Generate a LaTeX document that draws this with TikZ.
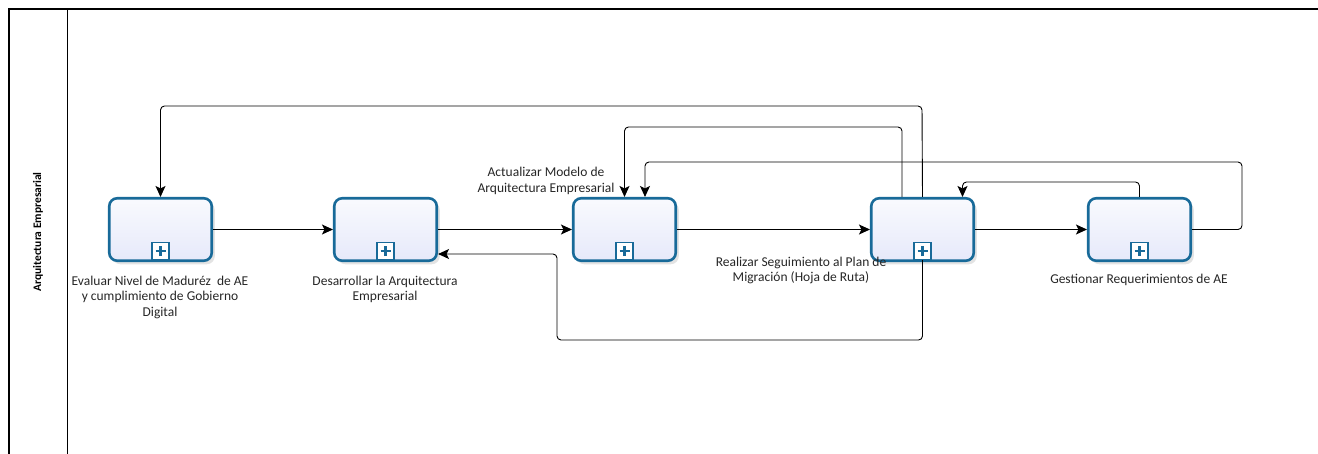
\documentclass[tikz,border=0pt]{standalone}
\usepackage{fontspec}
\setmainfont{Carlito}
\usetikzlibrary{shadows,arrows.meta,calc}
\definecolor{taskblue}{RGB}{24,106,153}
\definecolor{taskfill}{RGB}{240,242,252}
\definecolor{taskfillb}{RGB}{230,233,250}
\tikzset{
  task/.style={draw=taskblue, line width=2.6pt, rounded corners=8pt,
    minimum width=102.5pt, minimum height=62.5pt, inner sep=0pt,
    top color=taskfill!40!white, bottom color=taskfillb,
    drop shadow={opacity=0.22, shadow xshift=3pt, shadow yshift=-3.5pt}},
  marker/.style={draw=taskblue, line width=1.3pt, fill=white, minimum size=17pt, inner sep=0pt},
  flow/.style={draw=black, line width=0.9pt, rounded corners=4pt, -{Stealth[length=11pt,width=10pt,inset=2.5pt]}},
  lbl/.style={font=\fontsize{13.5}{15.5}\selectfont, align=center, text=black!85, inner sep=0pt},
}
\newcommand{\plusmark}[2]{%
  \node[marker] (#1) at ([yshift=11pt]#2.south) {};
  \draw[taskblue, line width=2.8pt] ([xshift=-5pt]#1.center) -- ([xshift=5pt]#1.center);
  \draw[taskblue, line width=2.8pt] ([yshift=-5pt]#1.center) -- ([yshift=5pt]#1.center);
}
\begin{document}
\begin{tikzpicture}[x=1pt,y=-1pt]
\useasboundingbox (0,0) rectangle (1318,453);
% frame
\draw[line width=1.4pt] (9,460) -- (9,9) -- (1318,9);
\draw[line width=1pt] (67,9) -- (67,460);
\node[rotate=90, font=\bfseries\fontsize{11.5}{13}\selectfont, inner sep=0pt] (lane) at (38,232) {Arquitectura Empresarial};

% tasks
\node[task] (A) at (160.5,229.5) {};
\node[task] (B) at (385.5,229.5) {};
\node[task] (C) at (624.5,229.5) {};
\node[task] (D) at (922.5,229.5) {};
\node[task] (E) at (1139.5,229.5) {};
\plusmark{Am}{A}
\plusmark{Bm}{B}
\plusmark{Cm}{C}
\plusmark{Dm}{D}
\plusmark{Em}{E}

% labels
\node[lbl] (lA) at (160,297) {Evaluar Nivel de Maduréz\ \ de AE\\y cumplimiento de Gobierno\\Digital};
\node[lbl] (lB) at (385,289.5) {Desarrollar la Arquitectura\\Empresarial};
\node[lbl] (lC) at (546,181) {Actualizar Modelo de\\Arquitectura Empresarial};
\node[lbl] (lD) at (801,270.5) {Realizar Seguimiento al Plan de\\Migración (Hoja de Ruta)};
\node[lbl] (lE) at (1139,280) {Gestionar Requerimientos de AE};

% sequence flows
\draw[flow] (A.east) -- (B.west);
\draw[flow] (B.east) -- (C.west);
\draw[flow] (C.east) -- (D.west);
\draw[flow] (D.east) -- (E.west);
% loops
\draw[flow] (D.north) -- (922,106) -- (160.5,106) -- (A.north);
\draw[flow] ([xshift=-20.5pt]D.north) -- (902,127) -- (624.5,127) -- (C.north);
\draw[flow] (E.east) -- (1242,229.5) -- (1242,162) -- (645,162) -- ([xshift=20.5pt]C.north);
\draw[flow] (E.north) -- (1139.5,182) -- (962.5,182) -- ([xshift=40pt]D.north);
\draw[flow] (Dm.south) -- (922.5,340) -- (557,340) -- (557,254) -- ([yshift=-24.5pt]B.east);
\end{tikzpicture}
\end{document}
